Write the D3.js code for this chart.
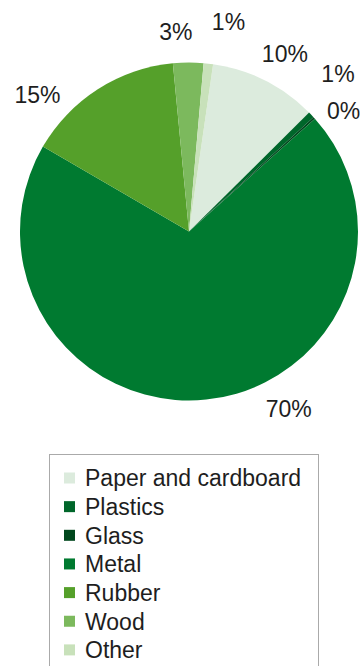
<!DOCTYPE html>
<html>
<head>
<meta charset="utf-8">
<script src="https://cdn.jsdelivr.net/npm/d3@7"></script>
<style>
  html, body { margin: 0; padding: 0; background: #fff; }
  svg { display: block; font-family: "Liberation Sans", Arial, sans-serif; }
</style>
</head>
<body>
<svg id="chart" width="360" height="666"></svg>
<script>
// Waste composition by material (share of total, %)
const categories = ["Paper and cardboard", "Plastics", "Glass", "Metal", "Rubber", "Wood", "Other"];
const shares = [10.3, 0.6, 0.2, 70.0, 15.1, 2.9, 0.9];
const colors = ["#dcebdd", "#00662a", "#00471d", "#007a30", "#55a02a", "#7cb95d", "#c8e1ba"];

// Label placement around the pie: angular shift from the slice middle (deg) and distance from centre
const labelShift = [1.6, -3, 4.3, -23.6, -15.3, -3.5, 4.1];
const labelDist = [202, 217, 196, 203, 204, 200, 213];

const svg = d3.select("#chart");
const cx = 189, cy = 231.5, R = 169;

const pie = d3.pie()
  .value(d => d.value)
  .sort(null)
  .startAngle(8.2 * Math.PI / 180)
  .endAngle(8.2 * Math.PI / 180 + 2 * Math.PI);

const data = categories.map((c, i) => ({ name: c, value: shares[i], color: colors[i], i }));
const arcs = pie(data);
const arc = d3.arc().innerRadius(0).outerRadius(R);

const g = svg.append("g").attr("transform", `translate(${cx},${cy})`);

g.selectAll("path.slice")
  .data(arcs)
  .join("path")
  .attr("class", "slice")
  .attr("d", arc)
  .attr("fill", d => d.data.color);

g.selectAll("text.pct")
  .data(arcs)
  .join("text")
  .attr("class", "pct")
  .attr("x", d => {
    const a = (d.startAngle + d.endAngle) / 2 + labelShift[d.data.i] * Math.PI / 180;
    return Math.sin(a) * labelDist[d.data.i];
  })
  .attr("y", d => {
    const a = (d.startAngle + d.endAngle) / 2 + labelShift[d.data.i] * Math.PI / 180;
    return -Math.cos(a) * labelDist[d.data.i];
  })
  .attr("dy", "0.36em")
  .attr("text-anchor", "middle")
  .attr("font-size", 23)
  .attr("fill", "#1e1e1e")
  .text(d => Math.round(d.data.value) + "%");

// Legend
const lg = svg.append("g");
lg.append("rect")
  .attr("x", 49.5).attr("y", 454.5)
  .attr("width", 269).attr("height", 230)
  .attr("fill", "#fff")
  .attr("stroke", "#aaaaaa")
  .attr("stroke-width", 1);

const rowY = d3.scaleLinear().domain([0, 1]).range([478, 478 + 28.65]);

const items = lg.selectAll("g.item")
  .data(data)
  .join("g")
  .attr("class", "item")
  .attr("transform", d => `translate(0,${rowY(d.i)})`);

items.append("rect")
  .attr("x", 64).attr("y", -5.5)
  .attr("width", 11).attr("height", 11)
  .attr("fill", d => d.color);

items.append("text")
  .attr("x", 85)
  .attr("dy", "0.36em")
  .attr("font-size", 23)
  .attr("fill", "#1e1e1e")
  .text(d => d.name);
</script>
</body>
</html>
